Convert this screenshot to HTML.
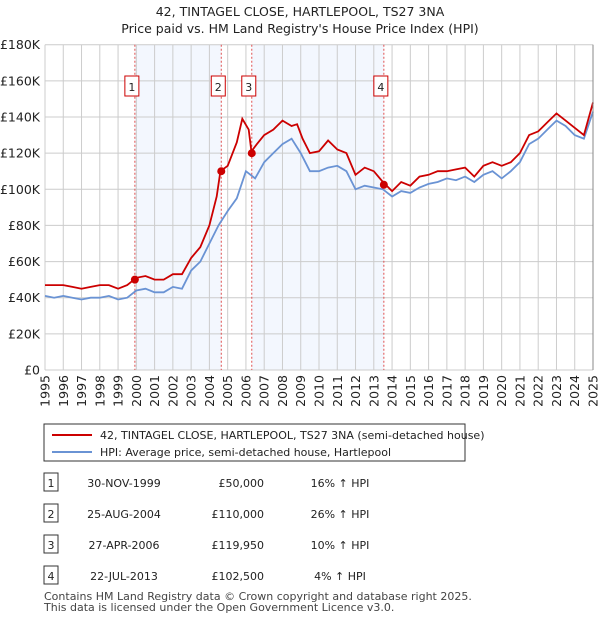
<!DOCTYPE html>
<html><head><meta charset="utf-8"><style>
body{margin:0;background:#fff;font-family:"Liberation Sans","DejaVu Sans",sans-serif;}
svg text{font-family:"DejaVu Sans","Liberation Sans",sans-serif;}
</style></head><body>
<svg id="c" width="600" height="620" xmlns="http://www.w3.org/2000/svg">
<text x="300" y="16" text-anchor="middle" font-size="12.5" fill="#222">42, TINTAGEL CLOSE, HARTLEPOOL, TS27 3NA</text>
<text x="300" y="33" text-anchor="middle" font-size="12.5" fill="#222">Price paid vs. HM Land Registry's House Price Index (HPI)</text>
<g id="plot"></g>
<g>
<rect x="44" y="424" width="421" height="37" fill="#fff" stroke="#333" stroke-width="1"/>
<line x1="52" y1="435" x2="92" y2="435" stroke="#cc0000" stroke-width="2"/>
<text x="100" y="439" font-size="11" fill="#222">42, TINTAGEL CLOSE, HARTLEPOOL, TS27 3NA (semi-detached house)</text>
<line x1="52" y1="452" x2="92" y2="452" stroke="#6a93d4" stroke-width="2"/>
<text x="100" y="456" font-size="11" fill="#222">HPI: Average price, semi-detached house, Hartlepool</text>
</g>
<g id="tbl" font-size="11" fill="#222"></g>
<text x="44" y="600" font-size="11" fill="#444">Contains HM Land Registry data © Crown copyright and database right 2025.</text>
<text x="44" y="611" font-size="11" fill="#444">This data is licensed under the Open Government Licence v3.0.</text>
</svg>
<script>
const years=[1995,1995.5,1996,1996.5,1997,1997.5,1998,1998.5,1999,1999.5,2000,2000.5,2001,2001.5,2002,2002.5,2003,2003.5,2004,2004.5,2005,2005.5,2006,2006.5,2007,2007.5,2008,2008.5,2009,2009.5,2010,2010.5,2011,2011.5,2012,2012.5,2013,2013.5,2014,2014.5,2015,2015.5,2016,2016.5,2017,2017.5,2018,2018.5,2019,2019.5,2020,2020.5,2021,2021.5,2022,2022.5,2023,2023.5,2024,2024.5,2025];
const hpi=[41,40,41,40,39,40,40,41,39,40,44,45,43,43,46,45,55,60,70,80,88,95,110,106,115,120,125,128,120,110,110,112,113,110,100,102,101,100,96,99,98,101,103,104,106,105,107,104,108,110,106,110,115,125,128,133,138,135,130,128,143];
const priceYears=[1995,1995.5,1996,1996.5,1997,1997.5,1998,1998.5,1999,1999.5,2000,2000.5,2001,2001.5,2002,2002.5,2003,2003.5,2004,2004.4,2004.6,2005,2005.5,2005.8,2006.15,2006.3,2006.6,2007,2007.5,2008,2008.5,2008.8,2009.1,2009.5,2010,2010.5,2011,2011.5,2012,2012.5,2013,2013.5,2014,2014.5,2015,2015.5,2016,2016.5,2017,2017.5,2018,2018.5,2019,2019.5,2020,2020.5,2021,2021.5,2022,2022.5,2023,2023.5,2024,2024.5,2025];
const price=[47,47,47,46,45,46,47,47,45,47,51,52,50,50,53,53,62,68,80,96,110,113,126,139,133,121,125,130,133,138,135,136,128,120,121,127,122,120,108,112,110,104,99,104,102,107,108,110,110,111,112,107,113,115,113,115,120,130,132,137,142,138,134,130,148];
const saleYears=[1999.92,2004.65,2006.32,2013.55];
const saleValues=[50000,110000,119950,102500];
const saleDates=["30-NOV-1999","25-AUG-2004","27-APR-2006","22-JUL-2013"];
const salePrices=["£50,000","£110,000","£119,950","£102,500"];
const saleHpi=["16% ↑ HPI","26% ↑ HPI","10% ↑ HPI","4% ↑ HPI"];
const yTicks=[0,20,40,60,80,100,120,140,160,180];
const yLabels=["£0","£20K","£40K","£60K","£80K","£100K","£120K","£140K","£160K","£180K"];
const xTicks=[1995,1996,1997,1998,1999,2000,2001,2002,2003,2004,2005,2006,2007,2008,2009,2010,2011,2012,2013,2014,2015,2016,2017,2018,2019,2020,2021,2022,2023,2024,2025];

const X0=45,X1=593,Y0=370,Y1=44.7;
const sx=y=>X0+(y-1995)/(2025-1995)*(X1-X0);
const sy=v=>Y0-v/180*(Y0-Y1);
const NS="http://www.w3.org/2000/svg";
const plot=document.getElementById('plot');
function mk(t,a,p){const e=document.createElementNS(NS,t);for(const k in a)e.setAttribute(k,a[k]);(p||plot).appendChild(e);return e;}

let r;
r=mk('rect',{x:sx(saleYears[0]),y:Y1,width:sx(saleYears[1])-sx(saleYears[0]),height:Y0-Y1,fill:'#eef3fd',opacity:0.7});


r=mk('rect',{x:sx(saleYears[2]),y:Y1,width:sx(saleYears[3])-sx(saleYears[2]),height:Y0-Y1,fill:'#eef3fd',opacity:0.7});



yTicks.forEach((v,i)=>{
 const l=mk('line',{x1:X0,x2:X1,y1:sy(v),y2:sy(v),stroke:'#ccc','stroke-width':1});
 
 
 const t=mk('text',{x:40,y:sy(v)+4.5,'text-anchor':'end','font-size':12.5,fill:'#222'});
 t.textContent=yLabels[i];
 
 
});
xTicks.forEach(y=>{
 const l=mk('line',{x1:sx(y),x2:sx(y),y1:Y1,y2:Y0,stroke:'#ccc','stroke-width':1});
 
 
 const t=mk('text',{x:0,y:0,'text-anchor':'end','font-size':12.5,fill:'#222',transform:`translate(${sx(y)+4.5},${Y0+5}) rotate(-90)`});
 t.textContent=y;
 
 
});
saleYears.forEach((y,i)=>{
 const l=mk('line',{x1:sx(y),x2:sx(y),y1:Y1,y2:Y0,stroke:'#e05050','stroke-width':1,'stroke-dasharray':'2,2'});
 
 
 const bx=sx(y)-10;
 const b=mk('rect',{x:bx,y:76,width:14,height:20,fill:'#fff',stroke:'#cc0000','stroke-width':1});
 
 
 const t=mk('text',{x:bx+7,y:91,'text-anchor':'middle','font-size':11,fill:'#222'});
 t.textContent=i+1;
 
 
});
const path=(xs,arr)=>arr.map((v,i)=>(i?'L':'M')+sx(xs[i]).toFixed(1)+','+sy(v).toFixed(1)).join('');
let p=mk('path',{d:path(years,hpi),fill:'none',stroke:'#6a93d4','stroke-width':1.8});


p=mk('path',{d:path(priceYears,price),fill:'none',stroke:'#cc0000','stroke-width':1.8});


saleYears.forEach((y,i)=>{
 const c=mk('circle',{cx:sx(y),cy:sy(saleValues[i]/1000),r:4,fill:'#cc0000'});
 
 
});
let ax=mk('line',{x1:X1,x2:X1,y1:Y1,y2:Y0,stroke:'#888','stroke-width':1});



const tbl=document.getElementById('tbl');
saleDates.forEach((d,i)=>{
 const yy=483+i*31;
 const b=mk('rect',{x:44,y:yy-10,width:14,height:18,fill:'#fff',stroke:'#333','stroke-width':1},tbl);
 
 
 const cells=[[51,'middle',String(i+1)],[124,'middle',d],[264,'end',salePrices[i]],[340,'middle',saleHpi[i]]];
 cells.forEach(c=>{
  const t=mk('text',{x:c[0],y:yy+4,'text-anchor':c[1]},tbl);
  t.textContent=c[2];
  
  
 });
});
</script>
</body></html>
